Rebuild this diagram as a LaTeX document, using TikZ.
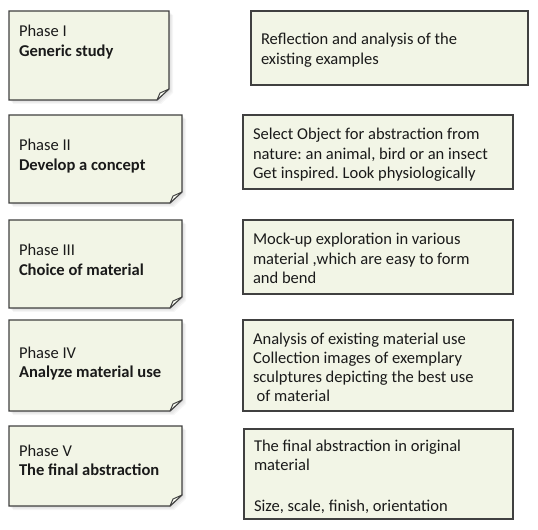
\documentclass[tikz,border=0pt]{standalone}
\usepackage{fontspec}
\setmainfont{Carlito}
\frenchspacing
\definecolor{linegray}{HTML}{404040}
\definecolor{notefill}{HTML}{F2F5E6}
\definecolor{textgray}{HTML}{1A1A1A}
\newcommand\phasenote[4]{%
  \foreach \s in {1,2,3,4}{%
    \fill[black,opacity=0.035] ({#1+\s},{#2+\s}) -- ({#3+\s},{#2+\s}) -- ({#3+\s},{#4-11+\s}) -- ({#3-12+\s},{#4+\s}) -- ({#1+\s},{#4+\s}) -- cycle;}
  \path[notebox] (#1,#2) -- (#3,#2) -- ({#3},{#4-11}) -- ({#3-12},{#4}) -- (#1,#4) -- cycle;
  \path[foldbox] ({#3-12},{#4}) -- ({#3-9},{#4-7}) -- ({#3},{#4-11}) .. controls ({#3-6},{#4-6}) .. ({#3-12},{#4}) -- cycle;
}
\newcommand\descbox[4]{%
  \path[notebox] (#1,#2) rectangle (#3,#4);
}
\begin{document}
\begin{tikzpicture}[x=0.75pt,y=-0.75pt,
  notebox/.style={draw=linegray, line width=0.8pt, fill=notefill, line join=miter},
  foldbox/.style={draw=linegray, line width=0.7pt, fill=notefill!60!white, line join=round},
  txt/.style={anchor=north west, inner sep=0pt, outer sep=0pt, align=left,
    font=\fontsize{12.4}{14.4}\selectfont, text=textgray},
]
\useasboundingbox (0,0) rectangle (538,530);

% left phase notes
\phasenote{9}{11}{169}{100}
\phasenote{9}{115}{182}{203}
\phasenote{9}{220}{182}{308}
\phasenote{9}{320}{182}{411}
\phasenote{9}{426}{182}{506}

% right description boxes
\descbox{251}{11}{528}{85}
\descbox{243}{115}{513}{189}
\descbox{243}{220}{513}{294}
\descbox{243}{320}{513}{411}
\descbox{244}{429}{513}{519}

% texts (anchor: first baseline minus strut height 0.7*14.4pt = 13.44px)
\node[txt] (p1) at (19,{37-13.44}) {\strut Phase I\\\textbf{Generic study}};
\node[txt] (p2) at (19,{151-13.44}) {\strut Phase II\\\textbf{Develop a concept}};
\node[txt] (p3) at (19,{256-13.44}) {\strut Phase III\\\textbf{Choice of material}};
\node[txt] (p4) at (19,{358-13.44}) {\strut Phase IV\\\textbf{Analyze material use}};
\node[txt] (p5) at (19,{456-13.44}) {\strut Phase V\\\textbf{The final abstraction}};

\node[txt] (d1) at (261,{45-13.44}) {\strut Reflection and analysis of the\\existing examples};
\node[txt] (d2) at (253,{140-13.44}) {\strut Select Object for abstraction from\\nature: an animal, bird or an insect\\Get inspired. Look physiologically};
\node[txt] (d3) at (253,{245-13.44}) {\strut Mock-up exploration in various\\material ,which are easy to form\\and bend};
\node[txt] (d4) at (253,{344-13.44}) {\strut Analysis of existing material use\\Collection images of exemplary\\sculptures depicting the best use\\\ of material};
\node[txt] (d5) at (254,{451-13.44}) {\strut The final abstraction in original\\material\\[16.3pt]Size, scale, finish, orientation};
\end{tikzpicture}
\end{document}
